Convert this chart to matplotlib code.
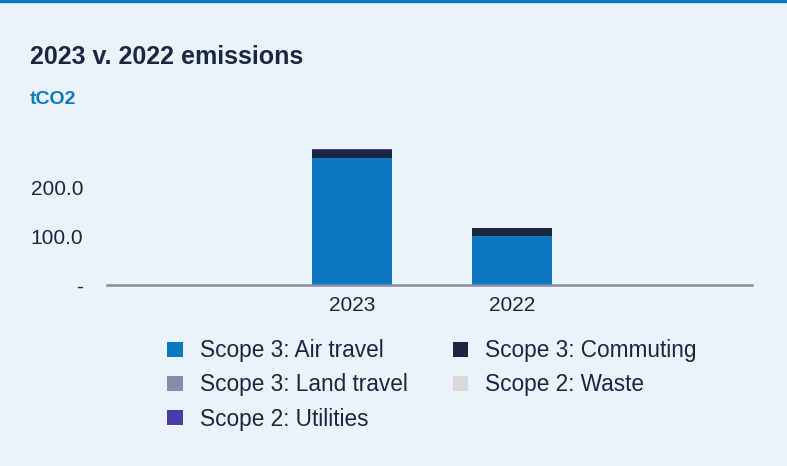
import numpy as np
import matplotlib
matplotlib.use("Agg")
import matplotlib.pyplot as plt
from matplotlib.patches import Patch

# data
years = ["2023", "2022"]
series = ["Scope 3: Air travel", "Scope 3: Commuting", "Scope 3: Land travel",
          "Scope 2: Waste", "Scope 2: Utilities"]
air_travel = [259.0, 100.0]
commuting = [16.0, 16.0]
land_travel = [1.0, 0.3]
waste = [0.3, 0.0]
utilities = [1.2, 0.0]
ytick_vals = [0, 100, 200]
ytick_labels = ["-", "100.0", "200.0"]

colors = {
    "Scope 3: Air travel": "#0B79C1",
    "Scope 3: Commuting": "#1B2640",
    "Scope 3: Land travel": "#8A8BA5",
    "Scope 2: Waste": "#D9D9D9",
    "Scope 2: Utilities": "#4A3BA8",
}
bg = "#EAF3FB"
dark = "#1B2640"

plt.rcParams['font.family'] = ['Liberation Sans', 'DejaVu Sans']

fig = plt.figure(figsize=(7.87, 4.66), dpi=100, facecolor=bg)
ax = fig.add_axes([0.136, 0.388, 0.8195, 0.316])
ax.set_facecolor(bg)

x = np.arange(len(years)) + 1
stack = [air_travel, commuting, land_travel, waste, utilities]
bottom = np.zeros(len(years))
for name, vals in zip(series, stack):
    ax.bar(x, vals, width=0.5, bottom=bottom, color=colors[name], linewidth=0)
    bottom += np.array(vals)

ax.set_xlim(-0.53, 3.5)
ax.set_ylim(0, 300)
ax.set_xticks(x)
ax.set_xticklabels(years)
ax.set_yticks(ytick_vals)
ax.set_yticklabels(ytick_labels)
ax.tick_params(length=0, labelsize=15, colors=dark)
ax.tick_params(axis='x', pad=8)
ax.tick_params(axis='y', pad=17)
for s in ["top", "right", "left"]:
    ax.spines[s].set_visible(False)
ax.spines["bottom"].set_color("#8A8BA5")
ax.spines["bottom"].set_linewidth(1.8)

# title block
fig.patches.append(plt.Rectangle((0, 0.995), 1, 0.005, transform=fig.transFigure,
                                 color="#0B79C1", zorder=5))
fig.text(30 / 787, 1 - 57 / 466, "2023 v. 2022 emissions", fontsize=18,
         fontweight="bold", color=dark, va="center")
fig.text(30 / 787, 1 - 100 / 466, "tCO2", fontsize=14, fontweight="bold",
         color="#0B79C1", va="center")

handles = [Patch(facecolor=colors[n], label=n) for n in series]
order = [0, 2, 4, 1, 3]
leg = fig.legend([handles[i] for i in order], [series[i] for i in order],
                 ncol=2, loc="upper left", bbox_to_anchor=(147 / 787, 1 - 319 / 466),
                 frameon=False, fontsize=16.3, handlelength=0.68, handleheight=0.68,
                 handletextpad=0.75, columnspacing=2.0, labelspacing=0.49)
for t in leg.get_texts():
    t.set_color(dark)

fig.savefig("out.png", dpi=100, facecolor=bg)
